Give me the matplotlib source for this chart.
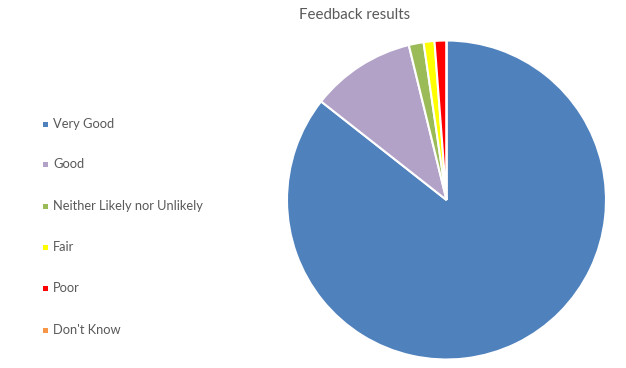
import matplotlib
matplotlib.use('Agg')
import matplotlib.pyplot as plt
from matplotlib.patches import Rectangle

# Feedback data (approx. share of responses)
labels = ['Very Good', 'Good', 'Neither Likely nor Unlikely', 'Fair', 'Poor', "Don't Know"]
values = [85.6, 10.6, 1.5, 1.1, 1.2, 0.0]
colors = ['#4F81BD', '#B3A2C7', '#9BBB59', '#FFFF00', '#FF0000', '#F79646']

plt.rcParams['font.family'] = ['Lato', 'DejaVu Sans']

W, H = 626, 368
fig = plt.figure(figsize=(W / 100, H / 100), dpi=100)

# Pie area: centre ~(446, 200), radius ~160 px
cx, cy, r = 446.5, 200, 159.5
ax = fig.add_axes([(cx - r) / W, (H - cy - r) / H, 2 * r / W, 2 * r / H])
ax.pie(values, colors=colors, startangle=90, counterclock=False,
       wedgeprops=dict(edgecolor='white', linewidth=1.5))
ax.set_xlim(-1, 1)
ax.set_ylim(-1, 1)
ax.set_aspect('equal')
ax.axis('off')

fig.text(355 / W, 1 - 15 / H, 'Feedback results', ha='center', va='center',
         fontsize=10.8, color='#595959')

# Legend on the left, manually spaced
row_y = [124, 164, 206, 247, 288, 330]
for lab, col, y in zip(labels, colors, row_y):
    fig.patches.append(Rectangle((43 / W, 1 - (y + 2.5) / H), 5 / W, 5 / H,
                                 transform=fig.transFigure, facecolor=col,
                                 edgecolor='none'))
    fig.text(53 / W, 1 - y / H, lab, ha='left', va='center',
             fontsize=9.3, color='#595959')

fig.savefig('out.png', dpi=100)
